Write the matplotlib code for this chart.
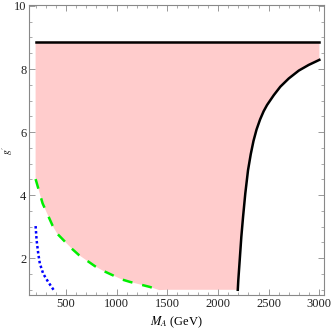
import matplotlib
matplotlib.use("Agg")
import matplotlib.pyplot as plt
from matplotlib.ticker import MultipleLocator

plt.rcParams['font.family'] = ['Liberation Serif', 'DejaVu Serif']
plt.rcParams['mathtext.fontset'] = 'stix'

# Data
top_y = 8.87
top_x = [200, 3000]

green_x = [200, 269, 368, 413, 555, 628, 785, 868, 1049, 1131, 1328, 1420]
green_y = [4.51, 3.74, 3.03, 2.78, 2.31, 2.10, 1.75, 1.60, 1.33, 1.25, 1.09, 0.99]

blue_x = [200, 210, 226, 242, 275, 324, 381]
blue_y = [3.02, 2.57, 2.15, 1.83, 1.51, 1.25, 0.98]

black_x = [2195, 2200, 2214, 2230, 2247, 2269, 2296, 2323, 2350, 2380, 2415,
           2450, 2484, 2550, 2615, 2698, 2797, 2895, 3000]
black_y = [1.00, 1.30, 1.94, 2.68, 3.31, 4.05, 4.79, 5.30, 5.72, 6.08, 6.40,
           6.66, 6.86, 7.17, 7.44, 7.70, 7.95, 8.13, 8.29]

floor_y = 1.0
floor_x = [1500, 2195]

fig = plt.figure(figsize=(3.32, 3.32), dpi=100)
ax = fig.add_axes([0.088, 0.111, 0.888, 0.874])

# pink allowed region polygon
px = [200, 3000, 3000] + black_x[::-1] + [floor_x[0]] + green_x[::-1] + [200]
py = [top_y, top_y, black_y[-1]] + black_y[::-1] + [floor_y] + green_y[::-1] + [top_y]
ax.fill(px, py, color='#ffcccc', lw=0, zorder=1)

ax.plot(top_x, [top_y, top_y], color='black', lw=1.8, zorder=3)
ax.plot(black_x, black_y, color='black', lw=1.8, zorder=3)
ax.plot(green_x, green_y, color='#00ee00', lw=1.8, dashes=(4, 4), zorder=3)
ax.plot(blue_x, blue_y, color='#0000ff', lw=1.8, dashes=(1, 1), zorder=3)

ax.set_xlim(137, 3046)
ax.set_ylim(0.83, 10.03)
ax.xaxis.set_minor_locator(MultipleLocator(100))
ax.yaxis.set_minor_locator(MultipleLocator(0.5))
ax.set_xticks([500, 1000, 1500, 2000, 2500, 3000])
ax.set_yticks([2, 4, 6, 8, 10])
ax.tick_params(which='both', direction='in', top=True, right=True, color='#888888',
               labelsize=9, labelcolor='#222222', pad=2)
ax.tick_params(which='major', length=4, width=0.6)
ax.tick_params(which='minor', length=2, width=0.5)
for s in ax.spines.values():
    s.set_color('#888888')
    s.set_linewidth(0.8)

ax.set_xlabel('$M_A$ (GeV)', fontsize=9, labelpad=3)
ax.set_ylabel("$g'$", fontsize=7)
ax.yaxis.set_label_coords(-0.048, 0.5)

fig.savefig('out.png', dpi=100)
